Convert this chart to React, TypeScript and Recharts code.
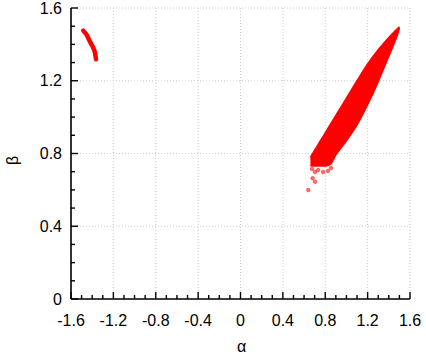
import React from 'react';
import { ComposedChart, XAxis, YAxis, CartesianGrid, Area, Line, Scatter, Label } from 'recharts';

// Tick labels
const xMajorTicks = [-1.6, -1.2, -0.8, -0.4, 0, 0.4, 0.8, 1.2, 1.6];
const xTickLabels = ['-1.6', '-1.2', '-0.8', '-0.4', '0', '0.4', '0.8', '1.2', '1.6'];
const yMajorTicks = [0, 0.4, 0.8, 1.2, 1.6];
const yTickLabels = ['0', '0.4', '0.8', '1.2', '1.6'];

// Main dense region (alpha vs beta band), lower and upper beta edges
const bandAlpha = [0.66, 0.7, 0.75, 0.8, 0.85, 0.9, 1.0, 1.1, 1.2, 1.3, 1.35, 1.4, 1.45, 1.49, 1.5];
const bandBetaLow = [0.733, 0.731, 0.731, 0.731, 0.742, 0.792, 0.87, 0.957, 1.068, 1.195, 1.265, 1.335, 1.405, 1.468, 1.49];
const bandBetaHigh = [0.779, 0.818, 0.866, 0.914, 0.962, 1.009, 1.104, 1.2, 1.292, 1.37, 1.405, 1.438, 1.468, 1.491, 1.497];

// Small arc near alpha = -1.4
const arcAlpha = [-1.484, -1.452, -1.421, -1.395, -1.373, -1.364];
const arcBeta = [1.475, 1.452, 1.415, 1.387, 1.351, 1.318];

// Stray points below the band
const strayAlpha = [0.675, 0.703, 0.732, 0.779, 0.826, 0.854, 0.681, 0.703, 0.64];
const strayBeta = [0.715, 0.698, 0.709, 0.698, 0.704, 0.72, 0.664, 0.645, 0.599];

const bandData = bandAlpha.map((a, i) => ({ x: a, range: [bandBetaLow[i], bandBetaHigh[i]] }));
const arcData = arcAlpha.map((a, i) => ({ x: a, y: arcBeta[i] }));
const strayData = strayAlpha.map((a, i) => ({ x: a, y: strayBeta[i] }));

const steps = (from: number, to: number, step: number) => {
  const out: number[] = [];
  const n = Math.round((to - from) / step);
  for (let i = 0; i <= n; i++) out.push(Math.round((from + i * step) * 1000) / 1000);
  return out;
};
const xAllTicks = steps(-1.6, 1.6, 0.1);
const yAllTicks = steps(0, 1.6, 0.1);

const FONT = 'Liberation Sans, Arial, Helvetica, sans-serif';
const MAJOR = 7;
const MINOR = 4;
const TW = 1.4;

const majorIndex = (list: number[], v: number) => list.findIndex((m) => Math.abs(m - v) < 1e-6);

const BottomTick = (props: any) => {
  const { x, y, payload } = props;
  const idx = majorIndex(xMajorTicks, payload.value);
  const len = idx >= 0 ? MAJOR : MINOR;
  return (
    <g>
      <line x1={x} y1={y} x2={x} y2={y - len} stroke="#000" strokeWidth={TW} />
      {idx >= 0 && (
        <text x={x} y={y + 27} textAnchor="middle" fontSize={16} fontFamily={FONT} fill="#000">
          {xTickLabels[idx]}
        </text>
      )}
    </g>
  );
};

const TopTick = (props: any) => {
  const { x, y, payload } = props;
  const idx = majorIndex(xMajorTicks, payload.value);
  const len = idx >= 0 ? MAJOR : MINOR;
  return <line x1={x} y1={y} x2={x} y2={y + len} stroke="#000" strokeWidth={TW} />;
};

const LeftTick = (props: any) => {
  const { x, y, payload } = props;
  const idx = majorIndex(yMajorTicks, payload.value);
  const len = idx >= 0 ? MAJOR : MINOR;
  return (
    <g>
      <line x1={x} y1={y} x2={x + len} y2={y} stroke="#000" strokeWidth={TW} />
      {idx >= 0 && (
        <text x={x - 9} y={y + 5.5} textAnchor="end" fontSize={16} fontFamily={FONT} fill="#000">
          {yTickLabels[idx]}
        </text>
      )}
    </g>
  );
};

const RightTick = (props: any) => {
  const { x, y, payload } = props;
  const idx = majorIndex(yMajorTicks, payload.value);
  const len = idx >= 0 ? MAJOR : MINOR;
  return <line x1={x} y1={y} x2={x - len} y2={y} stroke="#000" strokeWidth={TW} />;
};

const XTitle = (props: any) => {
  const vb = props.viewBox || { x: 0, y: 0, width: 0, height: 0 };
  return (
    <text x={vb.x + vb.width / 2 + 1} y={vb.y + 53} textAnchor="middle" fontSize={16} fontFamily={FONT} fill="#000">
      α
    </text>
  );
};

const YTitle = (props: any) => {
  const vb = props.viewBox || { x: 0, y: 0, width: 0, height: 0 };
  const cx = 18;
  const cy = vb.y + vb.height / 2 + 7;
  return (
    <text x={cx} y={cy} textAnchor="middle" fontSize={16} fontFamily={FONT} fill="#000" transform={`rotate(-90 ${cx} ${cy})`}>
      β
    </text>
  );
};

const Dot = (p: any) => (
  <circle cx={p.cx} cy={p.cy} r={1.8} fill="#ff0000" fillOpacity={0.55} stroke="#ff0000" strokeOpacity={0.8} strokeWidth={0.6} />
);

export default function App() {
  return (
    <div style={{ position: 'absolute', left: 0, top: 0, background: '#fff' }}>
      <ComposedChart width={426} height={356} margin={{ top: 8, right: 16, bottom: 0, left: 0 }}>
        <CartesianGrid
          stroke="#cccccc"
          strokeDasharray="1 2"
          verticalValues={xMajorTicks}
          horizontalValues={yMajorTicks}
        />
        <XAxis
          xAxisId={0}
          dataKey="x"
          type="number"
          domain={[-1.6, 1.6]}
          allowDataOverflow
          ticks={xAllTicks}
          interval={0}
          tickSize={0}
          tickMargin={0}
          tickLine={false}
          tick={BottomTick}
          axisLine={{ stroke: '#000', strokeWidth: 1.6 }}
          height={57}
        >
          <Label content={XTitle} />
        </XAxis>
        <XAxis
          xAxisId="top"
          orientation="top"
          dataKey="x"
          type="number"
          domain={[-1.6, 1.6]}
          allowDataOverflow
          ticks={xAllTicks}
          interval={0}
          tickSize={0}
          tickMargin={0}
          tickLine={false}
          tick={TopTick}
          axisLine={{ stroke: '#000', strokeWidth: 1.6 }}
          height={0}
        />
        <YAxis
          yAxisId={0}
          dataKey="y"
          type="number"
          domain={[0, 1.6]}
          allowDataOverflow
          ticks={yAllTicks}
          interval={0}
          tickSize={0}
          tickMargin={0}
          tickLine={false}
          tick={LeftTick}
          axisLine={{ stroke: '#000', strokeWidth: 1.6 }}
          width={71}
        >
          <Label content={YTitle} />
        </YAxis>
        <YAxis
          yAxisId="right"
          orientation="right"
          dataKey="y"
          type="number"
          domain={[0, 1.6]}
          allowDataOverflow
          ticks={yAllTicks}
          interval={0}
          tickSize={0}
          tickMargin={0}
          tickLine={false}
          tick={RightTick}
          axisLine={{ stroke: '#000', strokeWidth: 1.6 }}
          width={0}
        />
        <Area
          data={bandData}
          dataKey="range"
          type="monotone"
          fill="#ff0000"
          fillOpacity={1}
          stroke="#ff0000"
          strokeWidth={1.5}
          isAnimationActive={false}
          dot={false}
          activeDot={false}
        />
        <Line
          data={arcData}
          dataKey="y"
          type="monotone"
          stroke="#ff0000"
          strokeWidth={4.5}
          strokeLinecap="round"
          dot={false}
          activeDot={false}
          isAnimationActive={false}
        />
        <Scatter data={strayData} dataKey="y" fill="#ff0000" shape={Dot} isAnimationActive={false} />
      </ComposedChart>
    </div>
  );
}
